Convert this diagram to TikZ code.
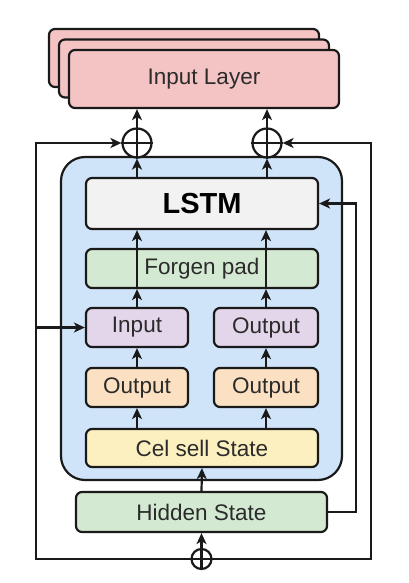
\documentclass[tikz,border=0pt]{standalone}
\usepackage{fontspec}
\setmainfont{Liberation Sans}
\usetikzlibrary{arrows.meta,calc}
\definecolor{pinkf}{HTML}{F4C4C4}
\definecolor{bluef}{HTML}{CFE4F8}
\definecolor{greyf}{HTML}{F2F2F2}
\definecolor{greenf}{HTML}{D3E9D1}
\definecolor{purplef}{HTML}{E3D5EA}
\definecolor{orangef}{HTML}{FCE0C2}
\definecolor{yellowf}{HTML}{FDF0C0}
\definecolor{linec}{HTML}{1A1A1A}
\definecolor{textc}{HTML}{2B2B2B}
\tikzset{
  boxst/.style={draw=linec, line width=2.2pt, rounded corners=6pt, inner sep=0pt,
    text=textc, font=\fontsize{22.5}{26}\selectfont},
  arr/.style={draw=linec, line width=2.2pt, -{Stealth[length=11pt,width=10pt,inset=3pt]}},
  ln/.style={draw=linec, line width=2.2pt},
  oplus/.style={circle, draw=linec, line width=2.2pt, inner sep=0pt, fill=white},
}
\begin{document}
\begin{tikzpicture}[x=1pt,y=-1pt]
\useasboundingbox (0,0) rectangle (408,583);
% Input layer stack
\node[boxst, fill=pinkf, minimum width=270pt, minimum height=58pt] (il3) at (184,58) {};
\node[boxst, fill=pinkf, minimum width=270pt, minimum height=58pt] (il2) at (194,68.5) {};
\node[boxst, fill=pinkf, minimum width=270pt, minimum height=58pt] (inl) at (204,79) {Input Layer};
% blue container
\node[draw=linec, line width=2.2pt, rounded corners=24pt, fill=bluef, minimum width=281pt, minimum height=323pt] (cont) at (201.5,318.5) {};
% inner boxes
\node[boxst, fill=greyf, minimum width=232pt, minimum height=51pt, font=\fontsize{29}{32}\selectfont\bfseries, text=black] (lstm) at (202,203.5) {LSTM};
\node[boxst, fill=greenf, minimum width=232pt, minimum height=39pt] (forg) at (202,268.5) {Forgen pad};
\node[boxst, fill=purplef, minimum width=102pt, minimum height=39pt] (inp) at (137,327.5) {Input};
\node[boxst, fill=purplef, minimum width=104pt, minimum height=39pt] (outp) at (266,327.5) {Output};
\node[boxst, fill=orangef, minimum width=102pt, minimum height=39pt] (out1) at (137,387.5) {Output};
\node[boxst, fill=orangef, minimum width=104pt, minimum height=39pt] (out2) at (266,387.5) {Output};
\node[boxst, fill=yellowf, minimum width=232pt, minimum height=38pt] (cell) at (202,448) {Cel sell State};
\node[boxst, fill=greenf, minimum width=251pt, minimum height=40pt] (hid) at (201.5,512) {Hidden State};
% oplus circles
\node[oplus, minimum size=29pt] (c1) at (137,143) {};
\node[oplus, minimum size=29pt] (c2) at (267,143) {};
\node[oplus, minimum size=20pt] (c3) at (201.5,559) {};
\foreach \c in {c1,c2,c3}{
  \draw[ln] (\c.north) -- (\c.south);
  \draw[ln] (\c.west) -- (\c.east);
}
% coordinates of outer loop
\coordinate (lt) at (36,143);
\coordinate (lb) at (36,559);
\coordinate (rb) at (371,559);
\coordinate (rt) at (371,143);
\coordinate (fb) at (356,203.5);
% vertical arrows
\draw[arr] (c1.north) -- (c1.north |- inl.south);
\draw[arr] (c2.north) -- (c2.north |- inl.south);
\draw[arr] (c1.south |- lstm.north) -- (c1.south);
\draw[arr] (c2.south |- lstm.north) -- (c2.south);
\draw[arr] (inp.north |- forg.south) -- (inp.north |- lstm.south);
\draw[arr] (outp.north |- forg.south) -- (outp.north |- lstm.south);
\draw[arr] (inp.north) -- (inp.north |- forg.south);
\draw[arr] (outp.north) -- (outp.north |- forg.south);
\draw[arr] (out1.north) -- (inp.south);
\draw[arr] (out2.north) -- (outp.south);
\draw[arr] (out1.south |- cell.north) -- (out1.south);
\draw[arr] (out2.south |- cell.north) -- (out2.south);
\draw[arr] (hid.north) -- (cell.south);
\draw[arr] (c3.north) -- (hid.south);
% outer loop
\draw[arr] (c3.west) -- (lb) -- (lt) -- (c1.west);
\draw[arr] (c3.east) -- (rb) -- (rt) -- (c2.east);
\draw[arr] (lt |- inp.west) -- (inp.west);
% feedback
\draw[arr] (hid.east) -| (fb) -- (lstm.east);
\end{tikzpicture}
\end{document}
